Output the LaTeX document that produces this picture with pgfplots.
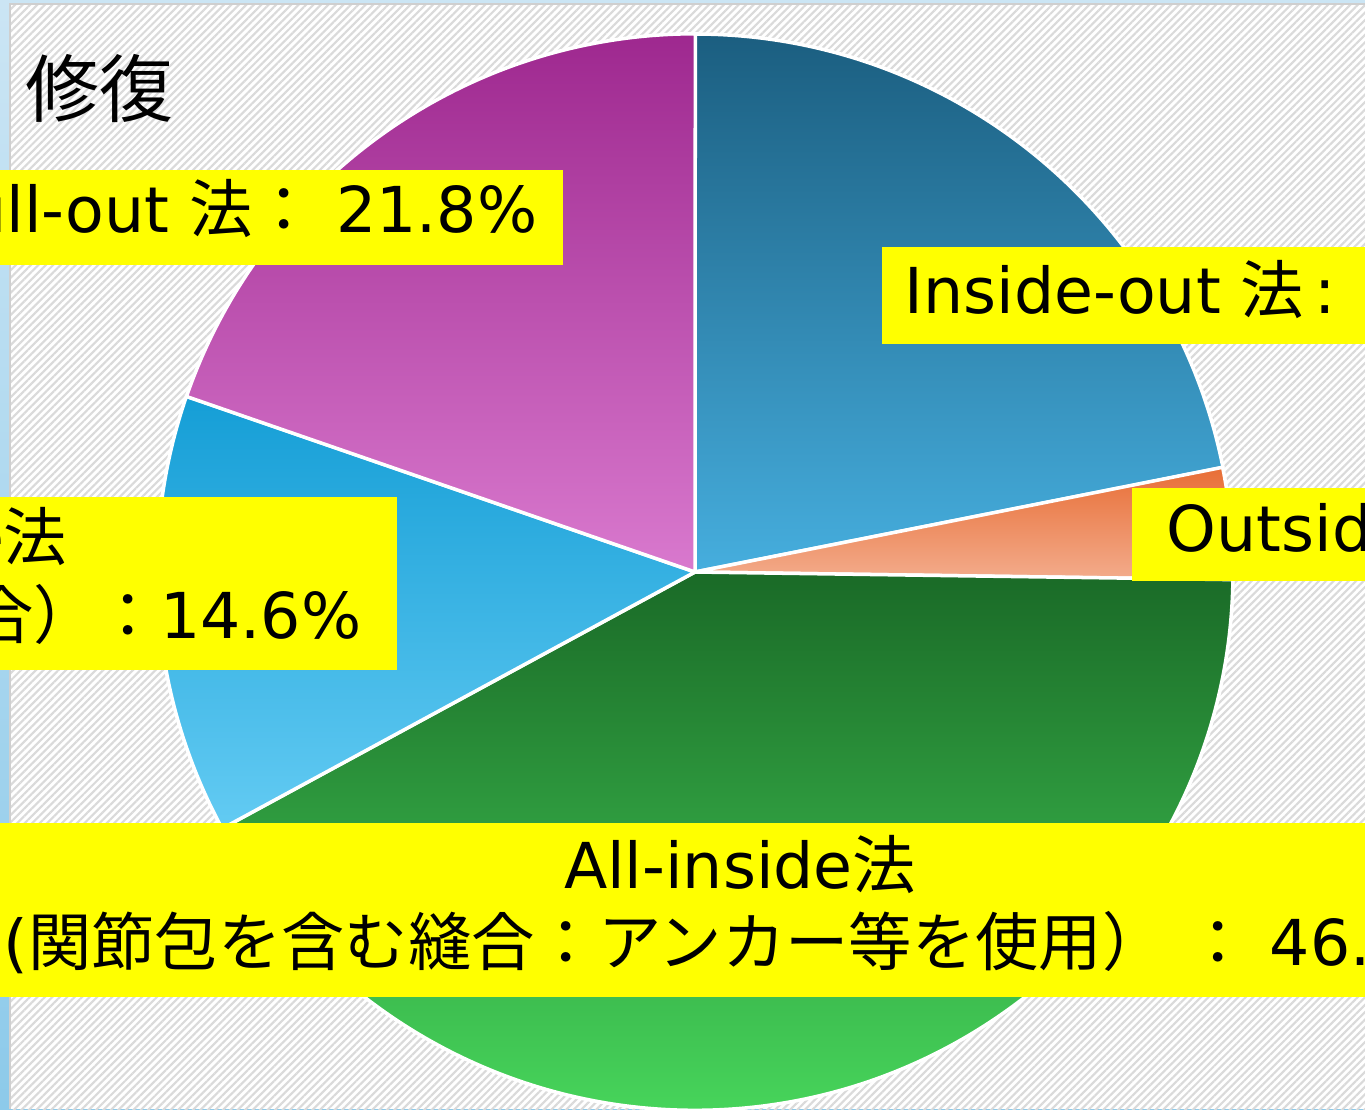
\documentclass[border=0pt]{standalone}
\usepackage{fontspec}
\setmainfont{DejaVu Sans}
\newfontfamily\cjk{Noto Sans CJK JP}
\usepackage{pgfplots}
\usepackage{pgfplotstable}
\pgfplotsset{compat=1.18}
\usetikzlibrary{patterns.meta}

\definecolor{pie0top}{HTML}{1B5E80}
\definecolor{pie0bot}{HTML}{46AEDE}
\definecolor{pie1top}{HTML}{E86E36}
\definecolor{pie1bot}{HTML}{F3AC8C}
\definecolor{pie2top}{HTML}{1A6A27}
\definecolor{pie2bot}{HTML}{47D55B}
\definecolor{pie3top}{HTML}{159ED6}
\definecolor{pie3bot}{HTML}{63CBF3}
\definecolor{pie4top}{HTML}{9E288F}
\definecolor{pie4bot}{HTML}{D979CE}
\definecolor{stripTop}{HTML}{CBE5F4}
\definecolor{stripBot}{HTML}{8DCAEA}
\definecolor{hatch}{HTML}{DADADA}
\definecolor{panelline}{HTML}{CFCFCF}
\definecolor{lblbox}{RGB}{255,255,0}

\newcommand\lbl{\fontsize{18}{21.8}\selectfont}

% slice values (percent, as printed on the labels)
\pgfplotstableread{
idx value
0 24.2
1 3.7
2 46.3
3 14.6
4 21.8
}\piedata

\begin{document}
\begin{tikzpicture}
\begin{axis}[
  x=0.01cm, y=0.01cm,
  xmin=0, xmax=1365, ymin=-1109, ymax=0,
  hide axis, scale only axis, clip=true,
]
% background
\shade[top color=stripTop, bottom color=stripBot] (axis cs:0,0) rectangle (axis cs:1365,-1109);
\fill[white] (axis cs:10,-4) rectangle (axis cs:1365,-1109);
\fill[pattern={Lines[angle=45,distance=1.5pt,line width=0.6pt]}, pattern color=hatch]
  (axis cs:10,-4) rectangle (axis cs:1365,-1109);
\draw[panelline, line width=0.6pt] (axis cs:10,-1109) -- (axis cs:10,-4) -- (axis cs:1365,-4);

% pie
\def\total{0}
\pgfplotsforeachungrouped \i in {0,...,4}{%
  \pgfplotstablegetelem{\i}{value}\of\piedata
  \pgfmathsetmacro\total{\total+\pgfplotsretval}%
}
\def\cum{0}
\pgfplotsforeachungrouped \i in {0,...,4}{%
  \pgfplotstablegetelem{\i}{value}\of\piedata
  \pgfmathsetmacro\angA{90-\cum/\total*360}%
  \pgfmathsetmacro\cum{\cum+\pgfplotsretval}%
  \pgfmathsetmacro\angB{90-\cum/\total*360}%
  \pgfmathsetmacro\px{695+538*cos(\angA)}%
  \pgfmathsetmacro\py{-572+538*sin(\angA)}%
  \edef\temp{\noexpand\shadedraw[draw=white, line width=1pt, line join=round,
      top color=pie\i top, bottom color=pie\i bot]
    (axis cs:695,-572) -- (axis cs:\px,\py)
    arc[start angle=\angA, end angle=\angB, radius=5.38cm] -- cycle;}%
  \temp
}

% label boxes
\fill[lblbox] (axis cs:0,-170) rectangle (axis cs:563,-265);
\fill[lblbox] (axis cs:882,-247) rectangle (axis cs:1375,-344);
\fill[lblbox] (axis cs:1132,-488) rectangle (axis cs:1375,-581);
\fill[lblbox] (axis cs:0,-497) rectangle (axis cs:397,-670);
\fill[lblbox] (axis cs:0,-823) rectangle (axis cs:1375,-997);

% texts
\node[anchor=base west, inner sep=0, font=\cjk\fontsize{21}{25}\selectfont] at (axis cs:25,-117) {修復};
\node[anchor=base east, inner sep=0, font=\lbl] at (axis cs:538,-233) {Pull-out {\cjk 法：} 21.8\%};
\node[anchor=base west, inner sep=0, font=\lbl] at (axis cs:904,-313) {Inside-out {\cjk 法}\hspace{3pt}:\hspace{0.7em}24.2\%};
\node[anchor=base west, inner sep=0, font=\lbl] at (axis cs:1166,-551) {Outside-in {\cjk 法}: 3.7\%};
\node[anchor=base east, inner sep=0, font=\lbl] at (axis cs:68,-560) {All-inside{\cjk 法}};
\node[anchor=base east, inner sep=0, font=\lbl] at (axis cs:362,-638) {({\cjk 半月板のみの縫合）：}14.6\%};
\node[anchor=base, inner sep=0, font=\lbl] at (axis cs:740,-888) {All-inside{\cjk 法}};
\node[anchor=base west, inner sep=0, font=\lbl] at (axis cs:3,-965) {({\cjk 関節包を含む縫合：アンカー等を使用）\hspace{6pt}：} 46.3\%};
\end{axis}
\pgfresetboundingbox
\useasboundingbox (current axis.south west) rectangle (current axis.north east);
\end{tikzpicture}
\end{document}
